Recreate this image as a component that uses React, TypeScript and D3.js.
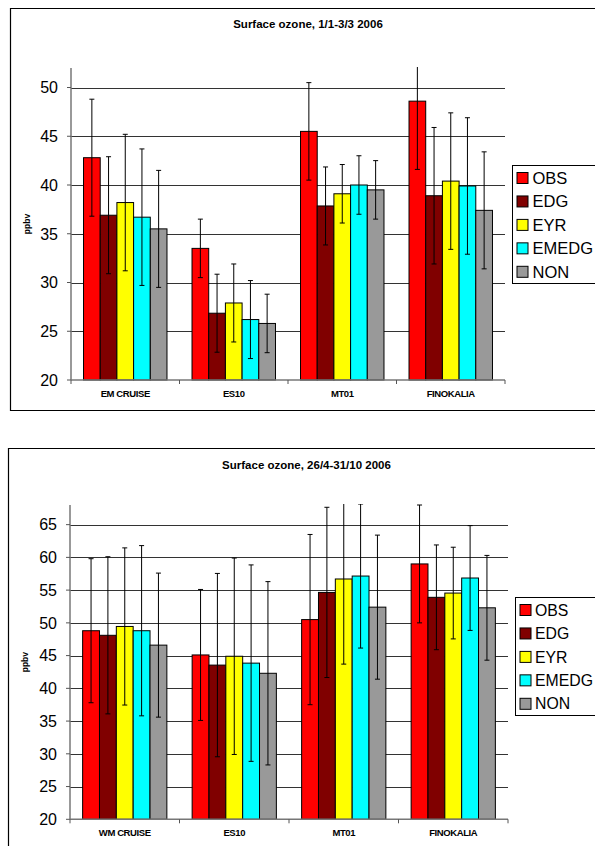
import React from 'react';
import * as d3 from 'd3';

const seriesNames = ['OBS', 'EDG', 'EYR', 'EMEDG', 'NON'];
const seriesColors = ['#ff0000', '#800000', '#ffff00', '#00ffff', '#999999'];

// chart 1: 1/1-3/3 2006
const categories1 = ['EM CRUISE', 'ES10', 'MT01', 'FINOKALIA'];
const obs1 = [42.8, 33.5, 45.5, 48.6];
const edg1 = [36.9, 26.85, 37.85, 38.9];
const eyr1 = [38.2, 27.9, 39.1, 40.4];
const emedg1 = [36.7, 26.2, 40.0, 39.9];
const non1 = [35.5, 25.8, 39.5, 37.4];
const obsErr1 = [6, 3, 5, 7];
const edgErr1 = [6, 4, 4, 7];
const eyrErr1 = [7, 4, 3, 7];
const emedgErr1 = [7, 4, 3, 7];
const nonErr1 = [6, 3, 3, 6];
const yTicks1 = [20, 25, 30, 35, 40, 45, 50];

// chart 2: 26/4-31/10 2006
const categories2 = ['WM CRUISE', 'ES10', 'MT01', 'FINOKALIA'];
const obs2 = [48.8, 45.1, 50.5, 59.0];
const edg2 = [48.1, 43.55, 54.65, 53.9];
const eyr2 = [49.45, 44.9, 56.7, 54.55];
const emedg2 = [48.8, 43.85, 57.15, 56.85];
const non2 = [46.6, 42.3, 52.4, 52.3];
const obsErr2 = [11, 10, 13, 9];
const edgErr2 = [12, 14, 13, 8];
const eyrErr2 = [12, 15, 13, 7];
const emedgErr2 = [13, 15, 11, 8];
const nonErr2 = [11, 14, 11, 8];
const yTicks2 = [20, 25, 30, 35, 40, 45, 50, 55, 60, 65];

const FONT = "'Liberation Sans', Arial, Helvetica, sans-serif";

type ChartProps = {
  id: string;
  title: string;
  categories: string[];
  values: number[][];
  errors: number[][];
  yTicks: number[];
  yMax: number;
  box: { x: number; y: number; bottom: number | null };
  plot: { left: number; right: number; top: number; bottom: number };
  titleX: number;
  titleY: number;
  legend: { x: number; y: number; h: number; first: number; swX: number; txtX: number; size: number };
  ylabX: number;
};

const Chart = (p: ChartProps) => {
  const { plot } = p;
  const x0 = d3.scaleBand().domain(p.categories).range([plot.left, plot.right]).padding(0);
  const x1 = d3.scaleBand().domain(seriesNames).range([0, x0.bandwidth()]).paddingInner(0).paddingOuter(0.75);
  const y = d3.scaleLinear().domain([20, p.yMax]).range([plot.bottom, plot.top]);
  const bw = x1.bandwidth();
  const step = 23.45;

  return (
    <g>
      <defs>
        <clipPath id={p.id}>
          <rect x={plot.left} y={plot.top - 1} width={plot.right - plot.left} height={plot.bottom - plot.top + 2} />
        </clipPath>
      </defs>
      {/* outer frame */}
      <path
        d={p.box.bottom !== null
          ? `M600,${p.box.y}H${p.box.x}V${p.box.bottom}H600`
          : `M600,${p.box.y}H${p.box.x}V850`}
        fill="none" stroke="#000" strokeWidth={1.2} />
      <text x={p.titleX} y={p.titleY} textAnchor="middle" fontFamily={FONT} fontWeight="bold" fontSize={11.5}>{p.title}</text>

      {/* grid */}
      {p.yTicks.filter(t => t > 20).map(t => (
        <line key={t} x1={plot.left} x2={plot.right} y1={Math.round(y(t)) + 0.5} y2={Math.round(y(t)) + 0.5} stroke="#333" strokeWidth={1} />
      ))}

      {/* bars */}
      {p.categories.map((c, ci) => (
        <g key={c} transform={`translate(${x0(c)},0)`}>
          {seriesNames.map((s, si) => (
            <rect key={s} x={x1(s)} y={y(p.values[si][ci])} width={bw} height={y(20) - y(p.values[si][ci])}
              fill={seriesColors[si]} stroke="#000" strokeWidth={1} />
          ))}
        </g>
      ))}

      {/* error bars */}
      <g clipPath={`url(#${p.id})`}>
        {p.categories.map((c, ci) => seriesNames.map((s, si) => {
          const cx = (x0(c) as number) + (x1(s) as number) + bw / 2;
          const v = p.values[si][ci];
          const e = p.errors[si][ci];
          const yt = y(v + e), yb = y(v - e);
          return (
            <g key={c + s} stroke="#000" strokeWidth={1}>
              <line x1={cx} x2={cx} y1={yt} y2={yb} />
              <line x1={cx - 2.5} x2={cx + 2.5} y1={yt} y2={yt} />
              <line x1={cx - 2.5} x2={cx + 2.5} y1={yb} y2={yb} />
            </g>
          );
        }))}
      </g>

      {/* axes */}
      <line x1={plot.left} x2={plot.left} y1={plot.top} y2={plot.bottom} stroke="#777" strokeWidth={1.5} />
      <line x1={plot.left} x2={plot.right} y1={plot.bottom} y2={plot.bottom} stroke="#777" strokeWidth={1.5} />
      {p.yTicks.map(t => (
        <g key={t}>
          <line x1={plot.left - 4} x2={plot.left} y1={y(t)} y2={y(t)} stroke="#555" strokeWidth={1} />
          <text x={plot.left - 13} y={y(t)} dy="0.36em" textAnchor="end" fontFamily={FONT} fontSize={16}>{t}</text>
        </g>
      ))}
      {[...p.categories.map(c => x0(c) as number), plot.right].map((xv, i) => (
        <line key={i} x1={xv} x2={xv} y1={plot.bottom} y2={plot.bottom + 4} stroke="#555" strokeWidth={1} />
      ))}
      {p.categories.map(c => (
        <text key={c} x={(x0(c) as number) + x0.bandwidth() / 2} y={plot.bottom + 17} textAnchor="middle"
          fontFamily={FONT} fontWeight="bold" fontSize={9.5} letterSpacing={-0.4}>{c}</text>
      ))}
      <text transform={`translate(${p.ylabX},${(plot.top + plot.bottom) / 2}) rotate(-90)`} textAnchor="middle"
        fontFamily={FONT} fontWeight="bold" fontSize={8.5}>ppbv</text>

      {/* legend */}
      <rect x={p.legend.x} y={p.legend.y} width={120} height={p.legend.h} fill="#fff" stroke="#000" strokeWidth={1} />
      {seriesNames.map((s, si) => {
        const cy = p.legend.first + si * step;
        return (
          <g key={s}>
            <rect x={p.legend.swX} y={cy - 5.5} width={11} height={11} fill={seriesColors[si]} stroke="#000" strokeWidth={1} />
            <text x={p.legend.txtX} y={cy} dy="0.36em" fontFamily={FONT} fontSize={p.legend.size}>{s}</text>
          </g>
        );
      })}
    </g>
  );
};

const App = () => (
  <svg width={595} height={846} style={{ position: 'absolute', left: 0, top: 0, background: '#fff' }}>
    <Chart
      id="clip1"
      title="Surface ozone, 1/1-3/3 2006"
      categories={categories1}
      values={[obs1, edg1, eyr1, emedg1, non1]}
      errors={[obsErr1, edgErr1, eyrErr1, emedgErr1, nonErr1]}
      yTicks={yTicks1}
      yMax={52}
      box={{ x: 10.5, y: 8.5, bottom: 410.5 }}
      plot={{ left: 71, right: 505, top: 68, bottom: 380 }}
      titleX={308}
      titleY={28}
      legend={{ x: 512.5, y: 165.5, h: 118, first: 178, swX: 517, txtX: 532.5, size: 16.5 }}
      ylabX={30}
    />
    <Chart
      id="clip2"
      title="Surface ozone, 26/4-31/10 2006"
      categories={categories2}
      values={[obs2, edg2, eyr2, emedg2, non2]}
      errors={[obsErr2, edgErr2, eyrErr2, emedgErr2, nonErr2]}
      yTicks={yTicks2}
      yMax={68}
      box={{ x: 8.5, y: 448.5, bottom: null }}
      plot={{ left: 70, right: 508, top: 505, bottom: 819.3 }}
      titleX={306.5}
      titleY={469}
      legend={{ x: 515.5, y: 597.5, h: 118, first: 610, swX: 520, txtX: 535, size: 15.8 }}
      ylabX={28}
    />
  </svg>
);

export default App;
